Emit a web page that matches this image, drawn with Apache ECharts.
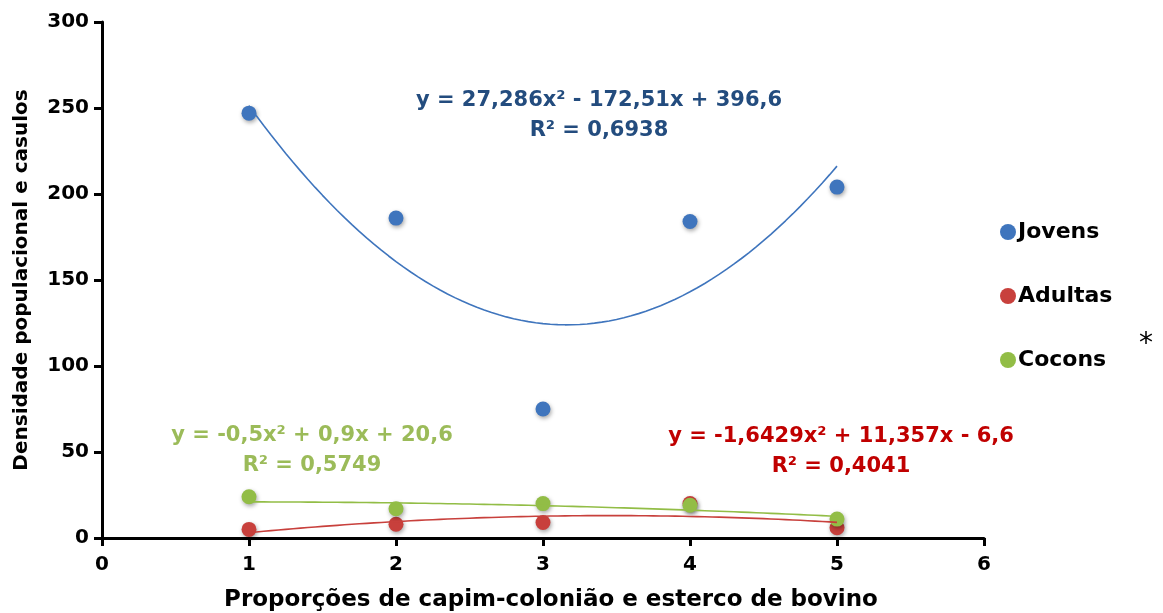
<!DOCTYPE html>
<html>
<head>
<meta charset="utf-8">
<script src="https://cdn.jsdelivr.net/npm/echarts@6/dist/echarts.min.js"></script>
<style>
  html, body { margin: 0; padding: 0; background: #fff; }
  #chart { width: 1163px; height: 613px; }
</style>
</head>
<body>
<div id="chart"></div>
<script>
// Proportions (treatments) on the x axis
const proporcoes = [1, 2, 3, 4, 5];

// Observed densities per treatment
const jovens  = [247, 186, 75, 184, 204];
const adultas = [5, 8, 9, 20, 6];
const cocons  = [24, 17, 20, 19, 11];

// Quadratic trend coefficients [a, b, c] for y = a·x² + b·x + c
const coefJovens  = [27.286, -172.51, 396.6];
const coefAdultas = [-1.6429, 11.357, -6.6];
const coefCocons  = [-0.5, 0.9, 20.6];

// Equation labels
const eqJovens  = ['y = 27,286x² - 172,51x + 396,6', 'R² = 0,6938'];
const eqAdultas = ['y = -1,6429x² + 11,357x - 6,6', 'R² = 0,4041'];
const eqCocons  = ['y = -0,5x² + 0,9x + 20,6', 'R² = 0,5749'];

const yTicks = [0, 50, 100, 150, 200, 250, 300];
const xTicks = [0, 1, 2, 3, 4, 5, 6];

const colors = {
  jovens: '#3F75BD', adultas: '#C8403C', cocons: '#92BD46',
  eqJovens: '#234C7E', eqAdultas: '#C00000', eqCocons: '#9BBB59'
};

// Sample the fitted polynomial across the observed range
function trend(coef, x0, x1, n) {
  const pts = [];
  for (let i = 0; i <= n; i++) {
    const x = x0 + (x1 - x0) * i / n;
    pts.push([x, coef[0] * x * x + coef[1] * x + coef[2]]);
  }
  return pts;
}

const FONT = '"DejaVu Sans", Verdana, sans-serif';

function scatter(name, ys, color) {
  return {
    name, type: 'scatter', z: 3,
    data: proporcoes.map((x, i) => [x, ys[i]]),
    symbolSize: 15,
    itemStyle: {
      color, opacity: 1, shadowBlur: 4, shadowOffsetX: 1, shadowOffsetY: 2,
      shadowColor: 'rgba(0,0,0,0.35)'
    }
  };
}
function trendLine(coef, color) {
  return {
    type: 'line', z: 4, silent: true, showSymbol: false, symbol: 'none',
    data: trend(coef, proporcoes[0], proporcoes[proporcoes.length - 1], 80),
    lineStyle: { color, width: 1.6 }
  };
}
function eqText(lines, cx, cy, color) {
  return lines.map((t, i) => ({
    type: 'text', x: cx, y: cy + i * 30,
    style: {
      text: t, fill: color, font: 'bold 21px ' + FONT,
      textAlign: 'center', textVerticalAlign: 'middle'
    }
  }));
}

const chart = echarts.init(document.getElementById('chart'));
chart.setOption({
  animation: false,
  backgroundColor: '#fff',
  grid: { left: 102, right: 179, top: 22, bottom: 75, outerBoundsMode: 'none', containLabel: false },
  xAxis: {
    type: 'value', min: xTicks[0], max: xTicks[xTicks.length - 1], interval: 1,
    name: 'Proporções de capim-colonião e esterco de bovino',
    nameLocation: 'middle', nameGap: 51,
    nameTextStyle: { color: '#000', fontWeight: 'bold', fontSize: 23, fontFamily: FONT, padding: [0, 0, 0, 16] },
    axisLine: { lineStyle: { color: '#000', width: 3 } },
    axisTick: { show: true, length: 8, lineStyle: { color: '#000', width: 3 } },
    axisLabel: { color: '#000', fontWeight: 'bold', fontSize: 20, fontFamily: FONT, margin: 17 },
    splitLine: { show: false }
  },
  yAxis: {
    type: 'value', min: yTicks[0], max: yTicks[yTicks.length - 1], interval: 50,
    name: 'Densidade populacional e casulos',
    nameLocation: 'middle', nameGap: 70, nameRotate: 90,
    nameTextStyle: { color: '#000', fontWeight: 'bold', fontSize: 20, fontFamily: FONT },
    axisLine: { show: true, lineStyle: { color: '#000', width: 3 } },
    axisTick: { show: true, length: 8, lineStyle: { color: '#000', width: 3 } },
    axisLabel: { color: '#000', fontWeight: 'bold', fontSize: 20, fontFamily: FONT, margin: 13 },
    splitLine: { show: false }
  },
  legend: {
    data: ['Jovens', 'Adultas', 'Cocons'],
    orient: 'vertical', left: 995, top: 216,
    icon: 'circle', itemWidth: 16, itemHeight: 16, itemGap: 42,
    itemStyle: { opacity: 1, shadowBlur: 0 },
    textStyle: { color: '#000', fontWeight: 'bold', fontSize: 22, fontFamily: FONT, padding: [0, 0, 0, -3] }
  },
  series: [
    scatter('Jovens', jovens, colors.jovens),
    scatter('Adultas', adultas, colors.adultas),
    scatter('Cocons', cocons, colors.cocons),
    trendLine(coefJovens, colors.jovens),
    trendLine(coefAdultas, colors.adultas),
    trendLine(coefCocons, colors.cocons)
  ],
  graphic: [
    ...eqText(eqJovens, 599, 101, colors.eqJovens),
    ...eqText(eqCocons, 312, 436, colors.eqCocons),
    ...eqText(eqAdultas, 841, 437, colors.eqAdultas),
    {
      type: 'text', x: 1146, y: 345,
      style: { text: '*', fill: '#000', font: '28px ' + FONT, textAlign: 'center', textVerticalAlign: 'middle' }
    }
  ]
});
</script>
</body>
</html>
